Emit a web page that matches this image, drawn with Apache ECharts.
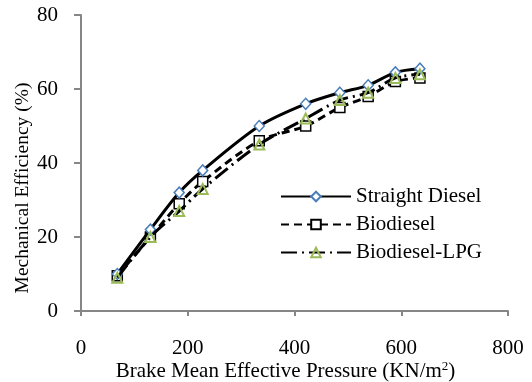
<!DOCTYPE html>
<html>
<head>
<meta charset="utf-8">
<script src="https://cdn.jsdelivr.net/npm/echarts@6/dist/echarts.min.js"></script>
<style>html,body{margin:0;padding:0;background:#fff}#c{width:532px;height:382px}</style>
</head>
<body>
<div id="c"></div>
<script>
var bmep = [68, 130, 184, 228, 334, 421, 485, 538, 589, 635];
var straightDiesel = [10, 22, 32, 38, 50, 56, 59, 61, 64.5, 65.5];
var biodiesel = [9.5, 20, 29, 35, 46, 50, 55, 58, 62, 63];
var biodieselLPG = [9, 20, 27, 33, 45, 52, 57, 59, 63, 64];
var xTicks = [0, 200, 400, 600, 800];
var yTicks = [0, 20, 40, 60, 80];

function pairs(xs, ys){ return xs.map(function(x,i){ return [x, ys[i]]; }); }
var font = '"Liberation Serif", "Times New Roman", serif';
var chart = echarts.init(document.getElementById('c'));
chart.setOption({
  animation: false,
  grid: {left: 81, right: 24, top: 15, bottom: 71, containLabel: false, outerBoundsMode: 'none'},
  xAxis: {
    type: 'value', min: xTicks[0], max: xTicks[xTicks.length-1], interval: 200,
    name: 'Brake Mean Effective Pressure (KN/m{sup|2})',
    nameLocation: 'middle', nameGap: 49, nameMoveOverlap: false,
    nameTextStyle: {fontFamily: font, fontSize: 21, color: '#000', padding: [0, 18, 0, 0],
      rich: {sup: {fontFamily: font, fontSize: 13, color: '#000', verticalAlign: 'top', padding: [0,0,9,0]}}},
    axisLine: {lineStyle: {color: '#868686', width: 2}},
    axisTick: {show: true, length: 5, lineStyle: {color: '#868686', width: 2}},
    axisLabel: {fontFamily: font, fontSize: 21, color: '#000', margin: 27},
    splitLine: {show: false}
  },
  yAxis: {
    type: 'value', min: yTicks[0], max: yTicks[yTicks.length-1], interval: 20,
    name: 'Mechanical Efficiency (%)',
    nameLocation: 'middle', nameGap: 48, nameMoveOverlap: false,
    nameTextStyle: {fontFamily: font, fontSize: 19.5, color: '#000', padding: [0, 50, 0, 0]},
    axisLine: {show: true, lineStyle: {color: '#868686', width: 2}},
    axisTick: {show: true, length: 7, lineStyle: {color: '#868686', width: 2}},
    axisLabel: {fontFamily: font, fontSize: 21, color: '#000', margin: 23},
    splitLine: {show: false}
  },
  legend: {
    left: 275, top: 181, orient: 'vertical', itemWidth: 70, itemHeight: 12, itemGap: 7,
    textStyle: {fontFamily: font, fontSize: 21, color: '#000'},
    data: ['Straight Diesel', 'Biodiesel', 'Biodiesel-LPG']
  },
  series: [
    {
      name: 'Straight Diesel', type: 'line', smooth: 0.3, data: pairs(bmep, straightDiesel),
      symbol: 'diamond', symbolSize: [10, 11], z: 4,
      lineStyle: {color: '#000', width: 3, type: 'solid'},
      itemStyle: {color: '#ffffff', borderColor: '#4a7ebb', borderWidth: 1.5}
    },
    {
      name: 'Biodiesel', type: 'line', smooth: 0.3, data: pairs(bmep, biodiesel),
      symbol: 'rect', symbolSize: 10, z: 3,
      lineStyle: {color: '#000', width: 3, type: [8, 5]},
      itemStyle: {color: '#ffffff', borderColor: '#000', borderWidth: 1.5}
    },
    {
      name: 'Biodiesel-LPG', type: 'line', smooth: 0.3, data: pairs(bmep, biodieselLPG),
      symbol: 'triangle', symbolSize: 10, z: 5,
      lineStyle: {color: '#000', width: 3, type: [16, 5, 2, 5]},
      itemStyle: {color: 'rgba(255,255,255,0)', borderColor: '#9bbb59', borderWidth: 2}
    }
  ]
});
</script>
</body>
</html>
